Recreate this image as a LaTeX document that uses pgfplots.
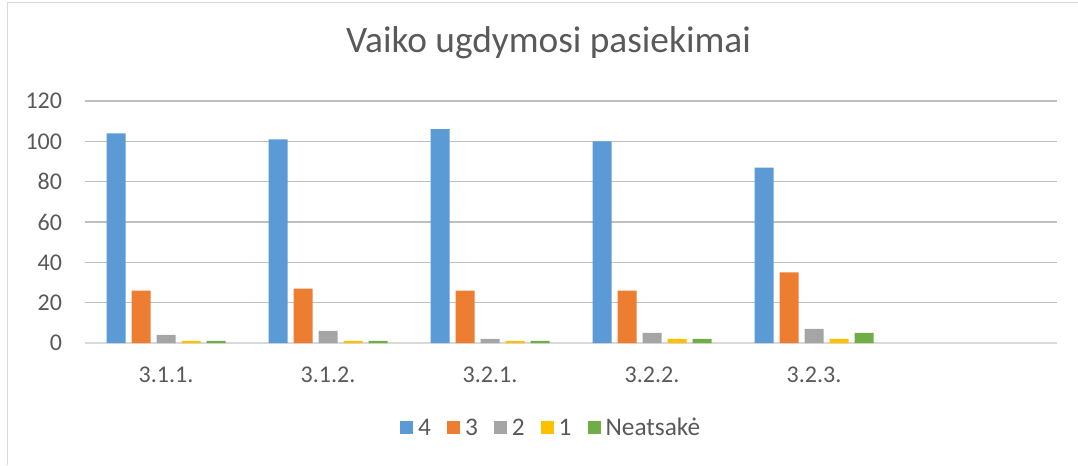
\documentclass[border=0pt]{standalone}
\usepackage{fontspec}
\setmainfont{Carlito}
\usepackage{pgfplots}
\pgfplotsset{compat=1.18}
\definecolor{cA}{HTML}{5B9BD5}
\definecolor{cB}{HTML}{ED7D31}
\definecolor{cC}{HTML}{A5A5A5}
\definecolor{cD}{HTML}{FFC000}
\definecolor{cE}{HTML}{70AD47}
\definecolor{txt}{HTML}{595959}
\definecolor{grid}{HTML}{D9D9D9}
\begin{document}
\begin{tikzpicture}
\useasboundingbox (0,0) rectangle (808.5pt,348.75pt);
\draw[grid,line width=1.1pt] (5.6pt,0) -- (5.6pt,346.9pt) -- (808.5pt,346.9pt);
\node[anchor=base,text=txt,font=\fontsize{28}{32}\selectfont,inner sep=0] at (411.4pt,309pt) {Vaiko ugdymosi pasiekimai};
\begin{axis}[
  at={(63.75pt,91.5pt)}, anchor=south west,
  scale only axis, width=729pt, height=181.5pt,
  ybar=4.5pt, bar width=14.25pt,
  xmin=-0.5, xmax=5.5, ymin=0, ymax=120,
  xtick={0,1,2,3,4},
  xticklabels={3.1.1.,3.1.2.,3.2.1.,3.2.2.,3.2.3.},
  ytick={0,20,40,60,80,100,120},
  ymajorgrids, xmajorgrids=false, grid style={grid,line width=0.9pt},
  axis line style={draw=none},
  major tick length=0pt,
  /pgf/number format/assume math mode=true,
  tick label style={text=txt,font=\fontsize{18}{21}\selectfont},
  xticklabel style={anchor=base,inner sep=0pt,yshift=-29.25pt},
  yticklabel style={anchor=east,inner sep=0pt,xshift=-17pt},
  legend style={at={(0.48,-0.351)},anchor=center,draw=none,legend columns=5,
    font=\fontsize{19}{22}\selectfont,text=txt,
    /tikz/every even column/.append style={column sep=10pt}},
  legend image code/.code={\fill[#1] (0pt,-4.9pt) rectangle (9.75pt,4.9pt);\path (11.5pt,0pt);},
]
\draw[grid,line width=0.9pt] (axis cs:-0.5,0) -- (axis cs:5.5,0);
\addplot[fill=cA,draw=none] coordinates {(0,104) (1,101) (2,106) (3,100) (4,87)};
\addplot[fill=cB,draw=none] coordinates {(0,26) (1,27) (2,26) (3,26) (4,35)};
\addplot[fill=cC,draw=none] coordinates {(0,4) (1,6) (2,2) (3,5) (4,7)};
\addplot[fill=cD,draw=none] coordinates {(0,1) (1,1) (2,1) (3,2) (4,2)};
\addplot[fill=cE,draw=none] coordinates {(0,1) (1,1) (2,1) (3,2) (4,5)};
\legend{4,3,2,1,Neatsakė}
\end{axis}
\end{tikzpicture}
\end{document}
